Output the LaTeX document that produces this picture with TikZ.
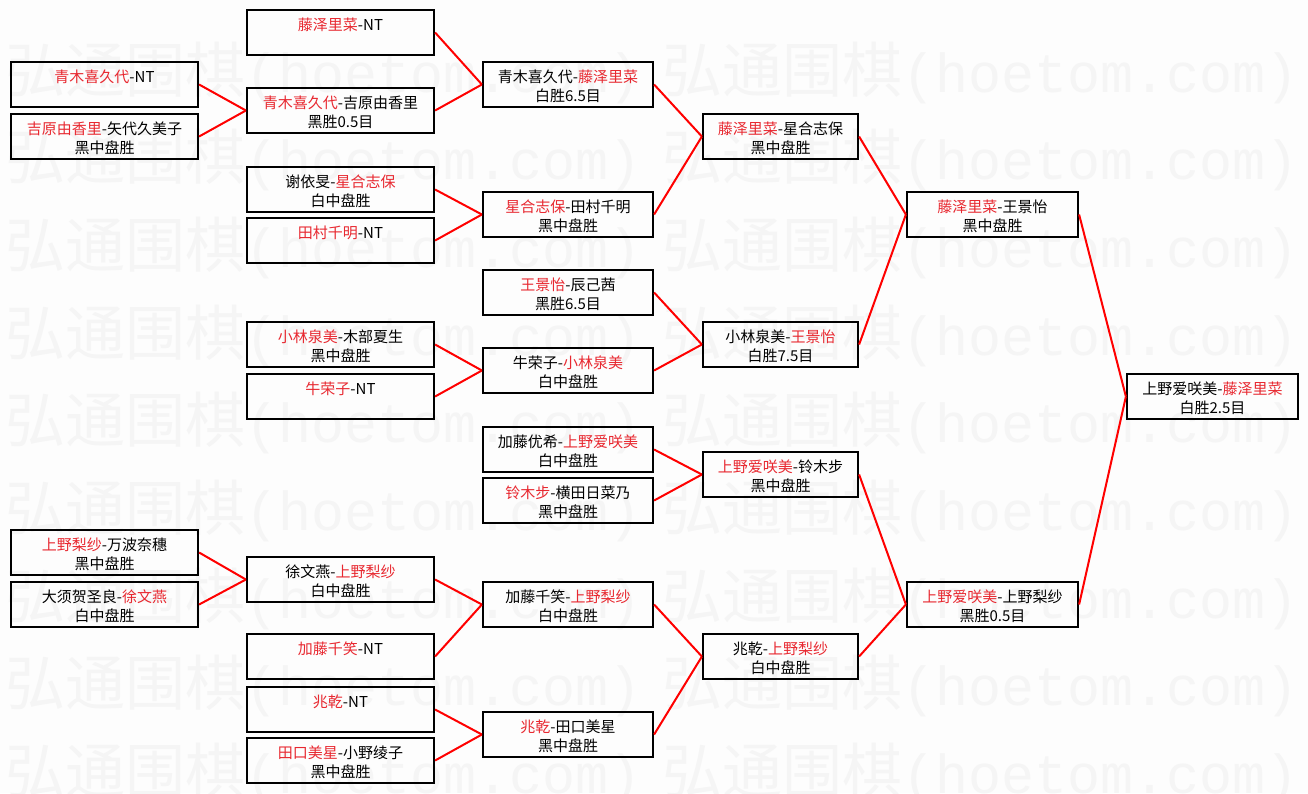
\documentclass[tikz,border=0pt]{standalone}
\usepackage{fontspec}
\setmainfont{Noto Sans CJK SC}
\newfontfamily\wmmono{Liberation Mono}
\definecolor{wred}{RGB}{232,40,48}
\definecolor{wmark}{RGB}{245,245,245}
\definecolor{bg}{RGB}{253,253,253}
\newcommand{\rn}[1]{\textcolor{wred}{#1}}
\newcommand{\gomatch}[6]{%
  \node[box, minimum width=#4pt] (#1) at (#2,#3) {};
  \node[txt] (#1t) at ([yshift=-8pt]#1.north) {\strut#5\\\strut#6};
}
\begin{document}
\begin{tikzpicture}[x=1pt,y=-1pt,
  box/.style={draw=black, line width=2.2pt, inner sep=0pt, minimum height=45pt},
  txt/.style={anchor=north, inner sep=0pt, align=center, font=\fontsize{15}{19}\selectfont},
  link/.style={draw=red, line width=2pt},
  wm/.style={anchor=base west, text=wmark, inner sep=0pt, font=\fontsize{60}{60}\selectfont}
]
\fill[bg] (0,0) rectangle (1308,793);
\useasboundingbox (0,0) rectangle (1308,793);
% watermark
\foreach \k in {0,...,8}{
  \node[wm] (wmL\k) at (5,{92+87.7*\k}) {弘通围棋{\wmmono\fontsize{55}{55}\selectfont(hoetom.com)}};
  \node[wm] (wmR\k) at (662,{92+87.7*\k}) {弘通围棋{\wmmono\fontsize{55}{55}\selectfont(hoetom.com)}};
}
% round 1
\gomatch{A1}{104.5}{84.5}{187}{\rn{青木喜久代}-NT}{}
\gomatch{A2}{104.5}{136.5}{187}{\rn{吉原由香里}-矢代久美子}{黑中盘胜}
\gomatch{A3}{104.5}{552.5}{187}{\rn{上野梨纱}-万波奈穗}{黑中盘胜}
\gomatch{A4}{104.5}{604.5}{187}{大须贺圣良-\rn{徐文燕}}{白中盘胜}
% round 2
\gomatch{B1}{340.5}{32.5}{187}{\rn{藤泽里菜}-NT}{}
\gomatch{B2}{340.5}{110.5}{187}{\rn{青木喜久代}-吉原由香里}{黑胜0.5目}
\gomatch{B3}{340.5}{189.5}{187}{谢依旻-\rn{星合志保}}{白中盘胜}
\gomatch{B4}{340.5}{240.5}{187}{\rn{田村千明}-NT}{}
\gomatch{B5}{340.5}{344.5}{187}{\rn{小林泉美}-木部夏生}{黑中盘胜}
\gomatch{B6}{340.5}{396.5}{187}{\rn{牛荣子}-NT}{}
\gomatch{B7}{340.5}{579.5}{187}{徐文燕-\rn{上野梨纱}}{白中盘胜}
\gomatch{B8}{340.5}{656.5}{187}{\rn{加藤千笑}-NT}{}
\gomatch{B9}{340.5}{709.5}{187}{\rn{兆乾}-NT}{}
\gomatch{B10}{340.5}{760.5}{187}{\rn{田口美星}-小野绫子}{黑中盘胜}
% round 3
\gomatch{C1}{568}{84.5}{170}{青木喜久代-\rn{藤泽里菜}}{白胜6.5目}
\gomatch{C2}{568}{214.5}{170}{\rn{星合志保}-田村千明}{黑中盘胜}
\gomatch{C3}{568}{292.5}{170}{\rn{王景怡}-辰己茜}{黑胜6.5目}
\gomatch{C4}{568}{370.5}{170}{牛荣子-\rn{小林泉美}}{白中盘胜}
\gomatch{C5}{568}{449.5}{170}{加藤优希-\rn{上野爱咲美}}{白中盘胜}
\gomatch{C6}{568}{500.5}{170}{\rn{铃木步}-横田日菜乃}{黑中盘胜}
\gomatch{C7}{568}{604.5}{170}{加藤千笑-\rn{上野梨纱}}{白中盘胜}
\gomatch{C8}{568}{734.5}{170}{\rn{兆乾}-田口美星}{黑中盘胜}
% round 4
\gomatch{D1}{780.5}{136.5}{155}{\rn{藤泽里菜}-星合志保}{黑中盘胜}
\gomatch{D2}{780.5}{344.5}{155}{小林泉美-\rn{王景怡}}{白胜7.5目}
\gomatch{D3}{780.5}{474.5}{155}{\rn{上野爱咲美}-铃木步}{黑中盘胜}
\gomatch{D4}{780.5}{656.5}{155}{兆乾-\rn{上野梨纱}}{白中盘胜}
% semifinal
\gomatch{E1}{992.5}{214.5}{171}{\rn{藤泽里菜}-王景怡}{黑中盘胜}
\gomatch{E2}{992.5}{604.5}{171}{\rn{上野爱咲美}-上野梨纱}{黑胜0.5目}
% final
\gomatch{F}{1212.5}{396.5}{171}{上野爱咲美-\rn{藤泽里菜}}{白胜2.5目}
% connectors
\draw[link] (A1.east) -- (B2.west);
\draw[link] (A2.east) -- (B2.west);
\draw[link] (A3.east) -- (B7.west);
\draw[link] (A4.east) -- (B7.west);
\draw[link] (B1.east) -- (C1.west);
\draw[link] (B2.east) -- (C1.west);
\draw[link] (B3.east) -- (C2.west);
\draw[link] (B4.east) -- (C2.west);
\draw[link] (B5.east) -- (C4.west);
\draw[link] (B6.east) -- (C4.west);
\draw[link] (B7.east) -- (C7.west);
\draw[link] (B8.east) -- (C7.west);
\draw[link] (B9.east) -- (C8.west);
\draw[link] (B10.east) -- (C8.west);
\draw[link] (C1.east) -- (D1.west);
\draw[link] (C2.east) -- (D1.west);
\draw[link] (C3.east) -- (D2.west);
\draw[link] (C4.east) -- (D2.west);
\draw[link] (C5.east) -- (D3.west);
\draw[link] (C6.east) -- (D3.west);
\draw[link] (C7.east) -- (D4.west);
\draw[link] (C8.east) -- (D4.west);
\draw[link] (D1.east) -- (E1.west);
\draw[link] (D2.east) -- (E1.west);
\draw[link] (D3.east) -- (E2.west);
\draw[link] (D4.east) -- (E2.west);
\draw[link] (E1.east) -- (F.west);
\draw[link] (E2.east) -- (F.west);
\end{tikzpicture}
\end{document}
